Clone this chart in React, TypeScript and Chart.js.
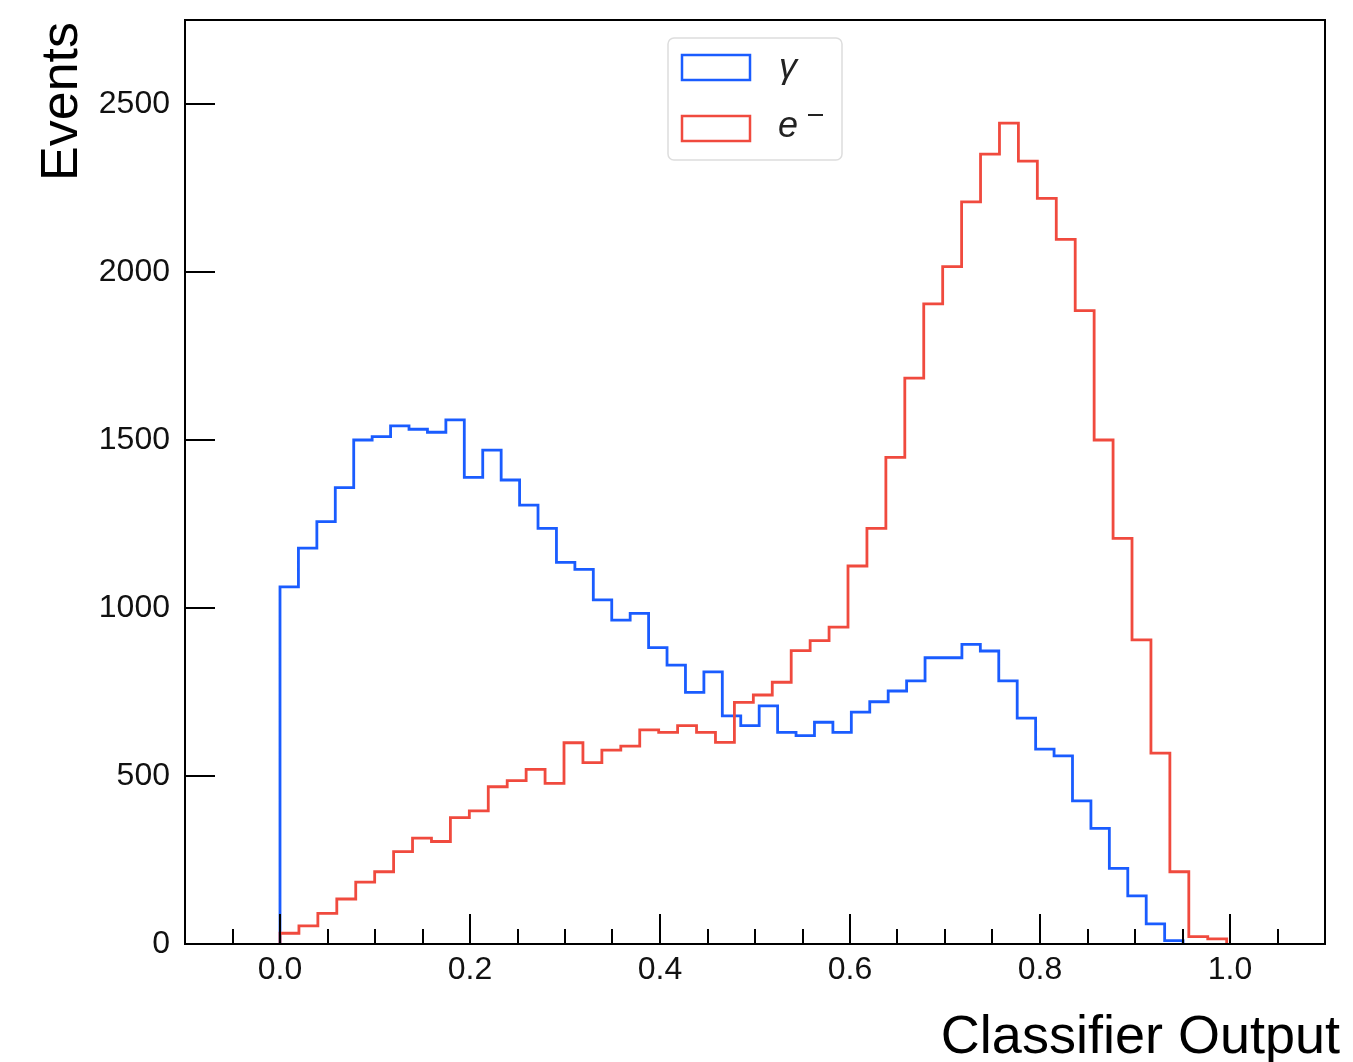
import React, { useEffect, useRef } from "react";
import { Chart, registerables } from "chart.js";

Chart.register(...registerables);

// ---- data -----------------------------------------------------------
const gammaLabel = "γ";
const electronLabel = "e";
const gammaBinWidth = 0.0194;
const electronBinWidth = 0.01993;

const gammaCounts = [
  1063, 1178, 1257, 1358, 1500, 1510, 1542, 1532, 1523, 1560,
  1389, 1470, 1381, 1306, 1237, 1136, 1115, 1024, 964, 984,
  882, 830, 749, 810, 679, 650, 709, 630, 620, 660,
  630, 690, 721, 753, 783, 852, 852, 892, 872, 783,
  672, 580, 560, 426, 344, 225, 143, 60, 10,
];

const electronCounts = [
  32, 54, 91, 134, 184, 215, 275, 315, 305, 376,
  396, 468, 486, 520, 478, 599, 540, 577, 589, 637,
  630, 650, 630, 600, 719, 741, 779, 873, 903, 943,
  1125, 1237, 1448, 1684, 1905, 2016, 2209, 2351, 2443, 2330,
  2219, 2097, 1885, 1500, 1207, 905, 568, 215, 22, 15,
];

const xMajorTicks = [0.0, 0.2, 0.4, 0.6, 0.8, 1.0];
const xMinorTicks = [
  -0.05, 0.05, 0.1, 0.15, 0.25, 0.3, 0.35, 0.45, 0.5, 0.55,
  0.65, 0.7, 0.75, 0.85, 0.9, 0.95, 1.05,
];
const yMajorTicks = [0, 500, 1000, 1500, 2000, 2500];
const xLimits = [-0.1, 1.1];
const yLimits = [0, 2750];

const xTitle = "Classifier Output";
const yTitle = "Events";

// ---- styles ---------------------------------------------------------
const BLUE = "#1a5cff";
const RED = "#f04a3e";
const FONT = "'Liberation Sans', Arial, Helvetica, sans-serif";

function histPoints(counts: number[], width: number) {
  const pts: { x: number; y: number }[] = [{ x: 0, y: 0 }];
  counts.forEach((c, i) => pts.push({ x: i * width, y: c }));
  pts.push({ x: counts.length * width, y: 0 });
  return pts;
}

const decorPlugin = {
  id: "decor",
  afterDraw(chart: any) {
    const { ctx, chartArea } = chart;
    const xs = chart.scales.x;
    const ys = chart.scales.y;
    const { left, right, top, bottom } = chartArea;
    ctx.save();
    ctx.strokeStyle = "#000";
    ctx.lineWidth = 2;
    ctx.lineCap = "butt";
    // ticks
    ctx.beginPath();
    xMajorTicks.forEach((v) => {
      const px = Math.round(xs.getPixelForValue(v));
      ctx.moveTo(px, bottom);
      ctx.lineTo(px, bottom - 30);
    });
    xMinorTicks.forEach((v) => {
      const px = Math.round(xs.getPixelForValue(v));
      ctx.moveTo(px, bottom);
      ctx.lineTo(px, bottom - 15);
    });
    yMajorTicks.forEach((v) => {
      const py = Math.round(ys.getPixelForValue(v));
      ctx.moveTo(left, py);
      ctx.lineTo(left + 30, py);
    });
    ctx.stroke();
    // frame
    ctx.strokeRect(left, top, right - left, bottom - top);

    // axis titles
    ctx.fillStyle = "#000";
    ctx.font = `54px ${FONT}`;
    ctx.textAlign = "right";
    ctx.textBaseline = "alphabetic";
    ctx.fillText(xTitle, 1340, 1053);
    ctx.save();
    ctx.font = `52px ${FONT}`;
    ctx.translate(77, 22);
    ctx.rotate(-Math.PI / 2);
    ctx.textAlign = "right";
    ctx.fillText(yTitle, 0, 0);
    ctx.restore();

    // legend
    const lx = 668, ly = 38, lw = 174, lh = 122;
    ctx.beginPath();
    (ctx as any).roundRect(lx, ly, lw, lh, 6);
    ctx.fillStyle = "rgba(255,255,255,0.85)";
    ctx.fill();
    ctx.strokeStyle = "#dddddd";
    ctx.lineWidth = 1.5;
    ctx.stroke();

    const entries = [
      { color: BLUE, y: 55 },
      { color: RED, y: 116 },
    ];
    entries.forEach((e) => {
      ctx.strokeStyle = e.color;
      ctx.lineWidth = 2.5;
      ctx.strokeRect(682, e.y, 68, 25);
    });
    ctx.fillStyle = "#222";
    ctx.textAlign = "left";
    ctx.textBaseline = "alphabetic";
    ctx.font = `italic 36px ${FONT}`;
    ctx.fillText(gammaLabel, 779, 78);
    ctx.fillText(electronLabel, 778, 137);
    // superscript minus
    ctx.fillRect(808, 114, 15, 2);
    ctx.restore();
  },
};

export default function App() {
  const canvasRef = useRef<HTMLCanvasElement | null>(null);

  useEffect(() => {
    if (!canvasRef.current) return;
    const tickFont = { family: FONT, size: 32 };
    const chart = new Chart(canvasRef.current, {
      type: "line",
      data: {
        datasets: [
          {
            label: gammaLabel,
            data: histPoints(gammaCounts, gammaBinWidth),
            borderColor: BLUE,
            borderWidth: 2.8,
            stepped: true,
            pointRadius: 0,
            fill: false,
            tension: 0,
            order: 1,
          },
          {
            label: electronLabel,
            data: histPoints(electronCounts, electronBinWidth),
            borderColor: RED,
            borderWidth: 2.8,
            stepped: true,
            pointRadius: 0,
            fill: false,
            tension: 0,
            order: 0,
          },
        ],
      },
      options: {
        animation: false,
        responsive: false,
        events: [],
        layout: { padding: { top: 20, right: 28, left: 0, bottom: 0 } },
        plugins: { legend: { display: false }, tooltip: { enabled: false } },
        scales: {
          x: {
            type: "linear",
            min: xLimits[0],
            max: xLimits[1],
            afterBuildTicks: (s: any) => {
              s.ticks = xMajorTicks.map((v) => ({ value: v }));
            },
            afterFit: (s: any) => {
              s.height = 118;
              s.paddingLeft = 0;
              s.paddingRight = 0;
            },
            grid: { display: false, drawTicks: false },
            border: { display: false },
            ticks: {
              padding: 7,
              font: tickFont,
              color: "#111",
              maxRotation: 0,
              autoSkip: false,
              callback: (v: any) => Number(v).toFixed(1),
            },
          },
          y: {
            type: "linear",
            min: yLimits[0],
            max: yLimits[1],
            afterBuildTicks: (s: any) => {
              s.ticks = yMajorTicks.map((v) => ({ value: v }));
            },
            afterFit: (s: any) => {
              s.width = 185;
              s.paddingTop = 0;
              s.paddingBottom = 0;
            },
            grid: { display: false, drawTicks: false },
            border: { display: false },
            ticks: {
              padding: 15,
              font: tickFont,
              color: "#111",
              autoSkip: false,
              callback: (v: any) => String(v),
            },
          },
        },
      },
      plugins: [decorPlugin],
    });
    return () => chart.destroy();
  }, []);

  return (
    <div style={{ position: "fixed", left: 0, top: 0, width: 1353, height: 1062, background: "#fff" }}>
      <canvas ref={canvasRef} width={1353} height={1062} style={{ width: 1353, height: 1062 }} />
    </div>
  );
}
